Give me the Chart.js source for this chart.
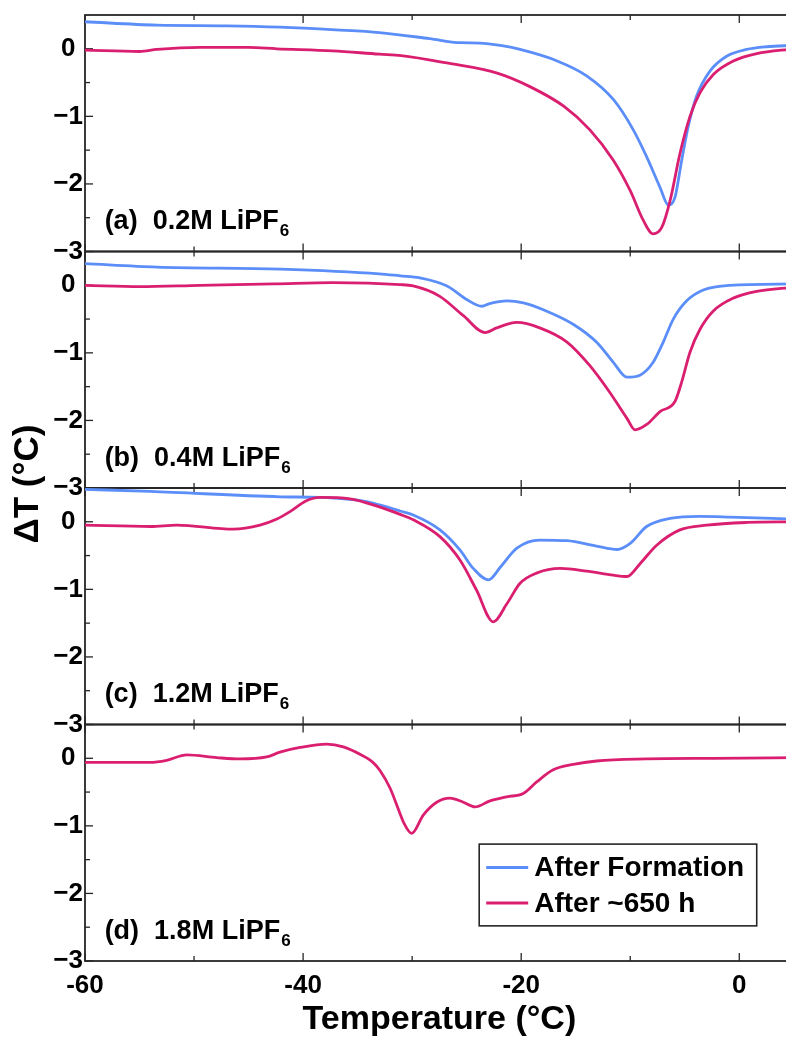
<!DOCTYPE html>
<html>
<head>
<meta charset="utf-8">
<script src="https://cdn.jsdelivr.net/npm/chart.js@4.4.1/dist/chart.umd.min.js"></script>
<style>
  html, body { margin: 0; padding: 0; background: #fff; overflow: hidden; width: 786px; height: 1037px; }
  #wrap { position: absolute; left: 0; top: 0; width: 800px; height: 1037px; }
</style>
</head>
<body>
<div id="wrap"><canvas id="dta" width="800" height="1037"></canvas></div>
<script>
// ---- Temperature (°C) / ΔT (°C) traces, one pair of arrays per curve ----

// (a) 0.2M LiPF6
const aFormationT = [-60, -53.4, -47, -42.1, -37, -33, -28.4, -25.6, -23.8, -21.9, -20.1, -16.7, -14.0, -11.55, -9.72, -8.49, -7.27, -6.51, -5.9, -5.28, -4.68, -3.91, -2.69, -1.16, 0.68, 2.5, 5];
const aFormationDT = [0.40, 0.35, 0.34, 0.32, 0.28, 0.24, 0.15, 0.09, 0.085, 0.05, -0.01, -0.18, -0.40, -0.75, -1.20, -1.60, -2.05, -2.31, -2.20, -1.65, -1.15, -0.70, -0.33, -0.11, -0.01, 0.03, 0.05];
const aAgedT = [-60, -55, -53.4, -49.45, -45, -42.4, -37.3, -33, -31, -26.8, -22.2, -19.2, -16.1, -13.7, -11.55, -10.0, -8.8, -7.9, -7.1, -6.35, -5.44, -4.52, -3.6, -2.38, -0.55, 1.6, 5];
const aAgedDT = [-0.02, -0.04, -0.01, 0.02, 0.02, 0.0, -0.03, -0.08, -0.10, -0.21, -0.36, -0.56, -0.85, -1.20, -1.65, -2.10, -2.54, -2.74, -2.64, -2.25, -1.55, -1.0, -0.65, -0.38, -0.18, -0.07, 0.0];

// (b) 0.4M LiPF6
const bFormationT = [-60, -53.4, -42.1, -33, -31.1, -29.3, -26.8, -25.0, -23.6, -22.9, -21.3, -19.8, -17.7, -15.2, -13.1, -11.55, -10.3, -9.1, -7.9, -6.97, -6.05, -4.82, -3.3, -0.85, 5];
const bFormationDT = [0.32, 0.27, 0.24, 0.17, 0.14, 0.11, -0.01, -0.21, -0.31, -0.27, -0.23, -0.26, -0.38, -0.58, -0.84, -1.14, -1.36, -1.33, -1.14, -0.84, -0.50, -0.23, -0.07, 0.0, 0.02];
const bAgedT = [-60, -55, -49.45, -42.7, -37.3, -31.1, -29.9, -27.5, -25.3, -23.3, -22.25, -20.4, -18.3, -15.8, -13.7, -11.9, -10.3, -9.56, -8.49, -7.27, -5.9, -5.28, -4.52, -3.6, -2.38, -0.55, 1.6, 5];
const bAgedDT = [0.0, -0.02, 0.0, 0.02, 0.04, 0.01, -0.01, -0.16, -0.45, -0.70, -0.63, -0.55, -0.63, -0.84, -1.19, -1.58, -1.97, -2.14, -2.06, -1.87, -1.72, -1.43, -0.99, -0.65, -0.38, -0.19, -0.09, -0.03];

// (c) 1.2M LiPF6
const cFormationT = [-60, -54, -42.1, -38.45, -34.2, -33, -31.1, -29.9, -27.45, -25.6, -24.4, -23.0, -21.9, -20.4, -18.3, -15.8, -13.1, -11.2, -10.0, -8.5, -6.35, -3.6, -0.85, 5];
const cFormationDT = [0.48, 0.45, 0.37, 0.36, 0.30, 0.25, 0.16, 0.10, -0.12, -0.42, -0.69, -0.86, -0.67, -0.39, -0.27, -0.28, -0.36, -0.41, -0.32, -0.07, 0.05, 0.08, 0.07, 0.04];
const cAgedT = [-60, -54, -51.6, -46.4, -43.95, -42.4, -41.2, -39.7, -38.45, -35.7, -33, -31.1, -29.9, -27.45, -25.6, -24.1, -22.56, -21.3, -20.1, -18.6, -16.4, -14.0, -11.55, -10.3, -9.1, -7.6, -5.44, -2.99, 0.68, 5];
const cAgedDT = [-0.05, -0.07, -0.05, -0.11, -0.05, 0.04, 0.15, 0.31, 0.36, 0.34, 0.22, 0.11, 0.03, -0.22, -0.57, -1.01, -1.48, -1.21, -0.91, -0.76, -0.69, -0.73, -0.79, -0.81, -0.62, -0.35, -0.12, -0.05, -0.01, 0.0];

// (d) 1.8M LiPF6
const dAgedT = [-60, -54.05, -52.51, -50.67, -47.92, -45.79, -43.34, -42.12, -40.28, -37.84, -36.31, -34.78, -33.6, -32.95, -32.03, -31.11, -30.81, -30.04, -28.98, -27.75, -26.53, -25.31, -24.24, -22.86, -21.33, -19.81, -18.58, -17.06, -15.22, -13.08, -8.49, -2.38, 5];
const dAgedDT = [-0.06, -0.06, -0.03, 0.05, 0.01, -0.01, 0.02, 0.09, 0.16, 0.21, 0.17, 0.06, -0.06, -0.18, -0.44, -0.82, -0.94, -1.11, -0.84, -0.65, -0.59, -0.65, -0.72, -0.63, -0.57, -0.52, -0.35, -0.17, -0.09, -0.04, -0.01, 0.0, 0.01];

// ---- axes and annotation text ----
const xTickValues = [-60, -40, -20, 0];
const xMinorValues = [-50, -30, -10];
const yTickValues = [-3, -2, -1, 0];
const yTickLabels = ['\u22123', '\u22122', '\u22121', '0'];
const yMinorValues = [-2.5, -1.5, -0.5];
const panelIds = ['ya', 'yb', 'yc', 'yd'];
const panelNames = ['(a)  0.2M LiPF', '(b)  0.4M LiPF', '(c)  1.2M LiPF', '(d)  1.8M LiPF'];
const panelSub = '6';
const seriesNames = ['After Formation', 'After ~650 h'];
const xTitle = 'Temperature (°C)';
const yTitle = 'ΔT (°C)';

const BLUE = '#5b8ef8';
const PINK = '#da1e70';
const INK = '#000000';
const FRAME = '#262626';
const FONT = "'Liberation Sans', Arial, Helvetica, sans-serif";

function pts(xs, ys) { return xs.map((x, i) => ({ x: x, y: ys[i] })); }
function series(label, xs, ys, axis, color, order) {
  return {
    label: label, data: pts(xs, ys), yAxisID: axis,
    borderColor: color, backgroundColor: color, borderWidth: 2.8,
    pointRadius: 0, fill: false, cubicInterpolationMode: 'monotone', order: order
  };
}

const datasets = [
  series(seriesNames[0], aFormationT, aFormationDT, 'ya', BLUE, 2),
  series(seriesNames[1], aAgedT, aAgedDT, 'ya', PINK, 1),
  series(seriesNames[0], bFormationT, bFormationDT, 'yb', BLUE, 2),
  series(seriesNames[1], bAgedT, bAgedDT, 'yb', PINK, 1),
  series(seriesNames[0], cFormationT, cFormationDT, 'yc', BLUE, 2),
  series(seriesNames[1], cAgedT, cAgedDT, 'yc', PINK, 1),
  series(seriesNames[1], dAgedT, dAgedDT, 'yd', PINK, 1)
];

function panelScale(weight) {
  return {
    type: 'linear', position: 'left', stack: 'panels', stackWeight: 1, weight: weight,
    min: -3, max: 0.5,
    afterBuildTicks: s => { s.ticks = yTickValues.map(v => ({ value: v })); },
    afterFit: s => { s.width = 85; },
    grid: { display: false, drawTicks: false },
    border: { display: false },
    ticks: {
      color: INK, padding: 2, crossAlign: 'center',
      font: { family: FONT, size: 26, weight: 'bold', lineHeight: 1 },
      callback: (v) => yTickLabels[yTickValues.indexOf(v)]
    }
  };
}

// frame, inward tick marks, panel captions, axis title and key
const decorations = {
  id: 'decorations',
  beforeDatasetsDraw(chart) {
    const { ctx, chartArea, scales } = chart;
    const xs = scales.x;
    const L = chartArea.left, R = chartArea.right;
    ctx.save();
    ctx.strokeStyle = FRAME;
    ctx.lineCap = 'butt';
    const seg = (x1, y1, x2, y2) => { ctx.beginPath(); ctx.moveTo(x1, y1); ctx.lineTo(x2, y2); ctx.stroke(); };
    panelIds.forEach(id => {
      const s = scales[id];
      const top = s.getPixelForValue(s.max), bot = s.getPixelForValue(s.min);
      ctx.lineWidth = 1.3;
      yTickValues.forEach(v => { const p = s.getPixelForValue(v); seg(L, p, L + 8, p); });
      yMinorValues.forEach(v => { const p = s.getPixelForValue(v); seg(L, p, L + 5, p); });
      xTickValues.forEach(v => { const p = xs.getPixelForValue(v); seg(p, top, p, top + 8); seg(p, bot, p, bot - 8); });
      xMinorValues.forEach(v => { const p = xs.getPixelForValue(v); seg(p, top, p, top + 5); seg(p, bot, p, bot - 5); });
      ctx.lineWidth = 1.8;
      ctx.strokeRect(L, top, R - L, bot - top);
    });
    ctx.restore();
  },
  afterDraw(chart) {
    const { ctx, scales } = chart;
    const xs = scales.x;
    ctx.save();
    ctx.fillStyle = INK;
    // panel captions with subscript
    panelIds.forEach((id, i) => {
      const s = scales[id];
      const px = xs.getPixelForValue(-58.2), py = s.getPixelForValue(-2.67);
      ctx.save();
      ctx.translate(px, py);
      ctx.textBaseline = 'alphabetic';
      ctx.textAlign = 'left';
      ctx.font = 'bold 27px ' + FONT;
      ctx.fillText(panelNames[i], 0, 0);
      const w = ctx.measureText(panelNames[i]).width;
      ctx.font = 'bold 17px ' + FONT;
      ctx.fillText(panelSub, w + 1, 7);
      ctx.restore();
    });
    // vertical axis title
    const ya = scales.ya, yd = scales.yd;
    const midY = (ya.getPixelForValue(ya.max) + yd.getPixelForValue(yd.min)) / 2 - 4;
    ctx.save();
    ctx.translate(28, midY);
    ctx.rotate(-Math.PI / 2);
    ctx.textAlign = 'center';
    ctx.textBaseline = 'middle';
    ctx.font = 'bold 35px ' + FONT;
    ctx.fillText(yTitle, 0, 0);
    ctx.restore();
    // key in panel (d)
    const kx1 = xs.getPixelForValue(-23.85), kx2 = xs.getPixelForValue(1.6);
    const ky1 = yd.getPixelForValue(-1.27), ky2 = yd.getPixelForValue(-2.48);
    ctx.fillStyle = '#ffffff';
    ctx.fillRect(kx1, ky1, kx2 - kx1, ky2 - ky1);
    ctx.strokeStyle = FRAME;
    ctx.lineWidth = 1.6;
    ctx.strokeRect(kx1, ky1, kx2 - kx1, ky2 - ky1);
    const rows = [ky1 + 23.5, ky1 + 59];
    [BLUE, PINK].forEach((c, i) => {
      ctx.strokeStyle = c;
      ctx.lineWidth = 3;
      ctx.beginPath();
      ctx.moveTo(kx1 + 7, rows[i]);
      ctx.lineTo(kx1 + 49, rows[i]);
      ctx.stroke();
      ctx.fillStyle = INK;
      ctx.font = 'bold 28px ' + FONT;
      ctx.textAlign = 'left';
      ctx.textBaseline = 'middle';
      ctx.fillText(seriesNames[i], kx1 + 55, rows[i] + 1);
    });
    ctx.restore();
  }
};

new Chart(document.getElementById('dta'), {
  type: 'line',
  data: { datasets: datasets },
  options: {
    responsive: false,
    animation: false,
    devicePixelRatio: 1,
    layout: { padding: { left: 0, top: 15, right: 6.2, bottom: 0 } },
    plugins: { legend: { display: false }, tooltip: { enabled: false } },
    elements: { point: { radius: 0 } },
    scales: {
      x: {
        type: 'linear', position: 'bottom', min: -60, max: 5,
        afterBuildTicks: s => { s.ticks = xTickValues.map(v => ({ value: v })); },
        afterFit: s => { s.height = 76; },
        grid: { display: false, drawTicks: false },
        border: { display: false },
        ticks: { color: INK, padding: 9, maxRotation: 0, font: { family: FONT, size: 26, weight: 'bold', lineHeight: 1.2 } },
        title: { display: true, text: xTitle, color: INK, padding: 0, font: { family: FONT, size: 34, weight: 'bold', lineHeight: 1 } }
      },
      yd: panelScale(1),
      yc: panelScale(2),
      yb: panelScale(3),
      ya: panelScale(4)
    }
  },
  plugins: [decorations]
});
</script>
</body>
</html>
